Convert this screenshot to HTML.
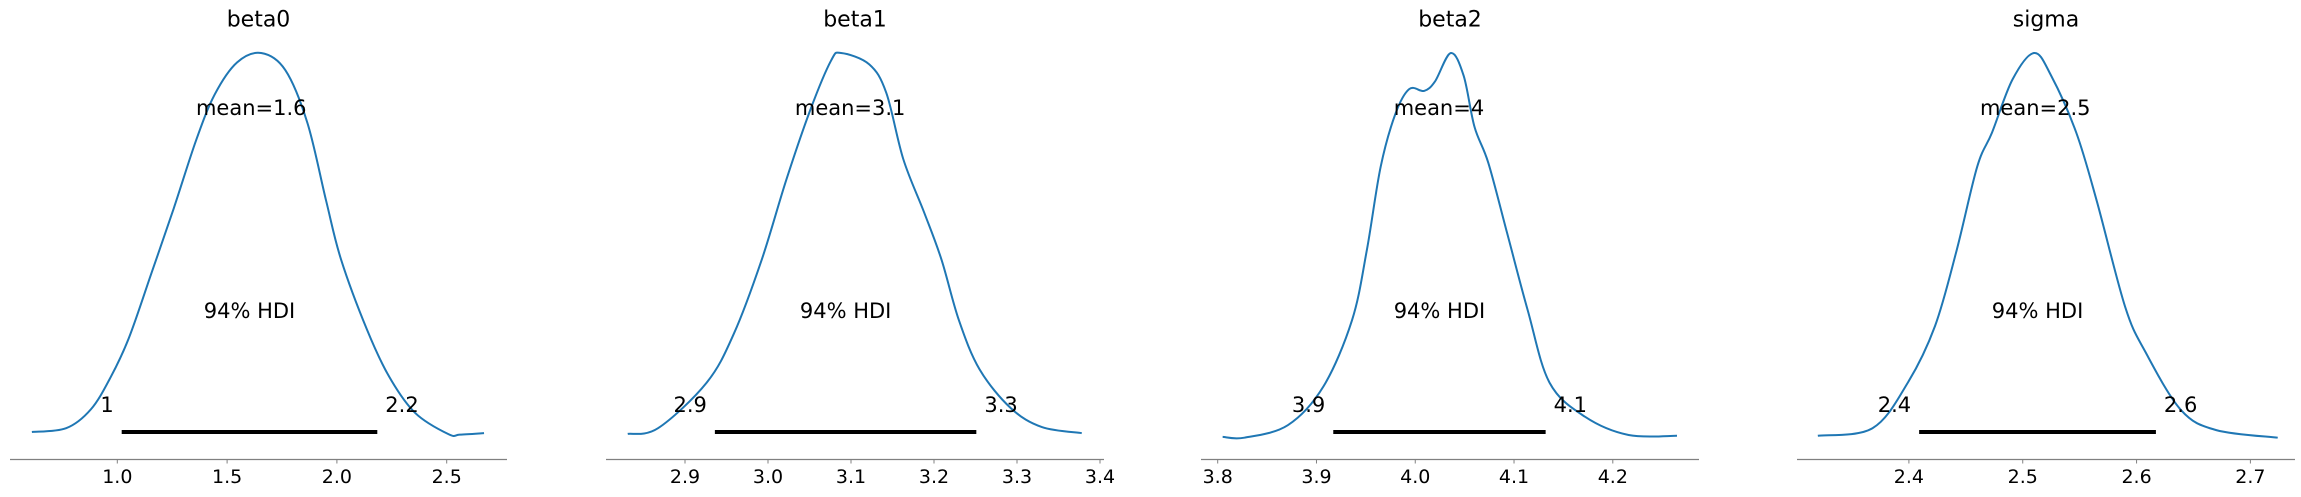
<!DOCTYPE html>
<html><head><meta charset="utf-8"><style>
html,body{margin:0;padding:0;background:#fff;}
svg{display:block;font-family:"DejaVu Sans","Liberation Sans",sans-serif;}
</style></head><body>
<svg id="chart" width="2301" height="497" viewBox="0 0 2301 497"></svg>
<script>
// ---- data ----
const paramNames = ["beta0","beta1","beta2","sigma"];
const beta0X = [0.611,0.767,0.880,0.970,1.054,1.156,1.257,1.359,1.443,1.545,1.655,1.765,1.866,1.951,2.019,2.137,2.239,2.357,2.509,2.560,2.670];
const beta0D = [0,0.01,0.06,0.145,0.25,0.42,0.59,0.77,0.89,0.975,1.0,0.955,0.815,0.61,0.455,0.27,0.145,0.05,-0.006,-0.007,-0.003];
const beta1X = [2.831,2.8675,2.926,2.959,2.9925,3.022,3.051,3.076,3.088,3.122,3.1425,3.163,3.188,3.209,3.23,3.255,3.2925,3.330,3.378];
const beta1D = [-0.005,0.01,0.13,0.26,0.455,0.665,0.85,0.98,1.0,0.97,0.895,0.72,0.58,0.455,0.295,0.165,0.063,0.013,-0.003];
const beta2X = [3.805,3.827,3.871,3.907,3.936,3.951,3.965,3.980,3.994,4.009,4.020,4.036,4.049,4.060,4.074,4.093,4.114,4.136,4.172,4.216,4.265];
const beta2D = [-0.013,-0.015,0.018,0.12,0.295,0.48,0.70,0.84,0.905,0.90,0.925,1.0,0.94,0.805,0.71,0.525,0.32,0.13,0.04,-0.008,-0.01];
const sigmaX = [2.320,2.368,2.399,2.423,2.442,2.460,2.473,2.491,2.510,2.525,2.547,2.565,2.590,2.608,2.639,2.670,2.724];
const sigmaD = [-0.01,0.01,0.13,0.28,0.48,0.70,0.79,0.93,1.0,0.94,0.79,0.61,0.33,0.21,0.058,0.005,-0.015];
const means = [1.61,3.099,4.024,2.511];
const meanLabels = ["1.6","3.1","4","2.5"];
const hdiLow = [1.020,2.936,3.917,2.409];
const hdiHigh = [2.184,3.251,4.132,2.617];
const hdiLowLabels = ["1","2.9","3.9","2.4"];
const hdiHighLabels = ["2.2","3.3","4.1","2.6"];
const ticks0 = [1.0,1.5,2.0,2.5];
const ticks1 = [2.9,3.0,3.1,3.2,3.3,3.4];
const ticks2 = [3.8,3.9,4.0,4.1,4.2];
const ticks3 = [2.4,2.5,2.6,2.7];
const tickLabels0 = ["1.0","1.5","2.0","2.5"];
const tickLabels1 = ["2.9","3.0","3.1","3.2","3.3","3.4"];
const tickLabels2 = ["3.8","3.9","4.0","4.1","4.2"];
const tickLabels3 = ["2.4","2.5","2.6","2.7"];

// ---- layout (pixel calibration, not data) ----
const layout = [
  {ax0:10, ax1:507, v0:1.0, p0:117.3, v1:2.5, p1:446.7},
  {ax0:606, ax1:1104, v0:2.9, p0:685, v1:3.4, p1:1100},
  {ax0:1201, ax1:1699, v0:3.8, p0:1217.7, v1:4.2, p1:1612.8},
  {ax0:1797, ax1:2295, v0:2.4, p0:1908.9, v1:2.7, p1:2250.4}
];
const xsArr=[beta0X,beta1X,beta2X,sigmaX], dsArr=[beta0D,beta1D,beta2D,sigmaD];
const tickArr=[ticks0,ticks1,ticks2,ticks3], tickLabArr=[tickLabels0,tickLabels1,tickLabels2,tickLabels3];
const Y0=432, YPEAK=53, AXY=459.5;
const NS="http://www.w3.org/2000/svg";
const svg=document.getElementById('chart');
function mk(tag,attrs,parent){const e=document.createElementNS(NS,tag);for(const k in attrs)e.setAttribute(k,attrs[k]);(parent||svg).appendChild(e);return e;}
function yScale(d){return Y0-d*(Y0-YPEAK);}
function smoothPath(pts){
  let d="M"+pts[0][0].toFixed(2)+","+pts[0][1].toFixed(2);
  for(let i=0;i<pts.length-1;i++){
    const p0=pts[Math.max(0,i-1)],p1=pts[i],p2=pts[i+1],p3=pts[Math.min(pts.length-1,i+2)];
    const c1=[p1[0]+(p2[0]-p0[0])/6,p1[1]+(p2[1]-p0[1])/6];
    const c2=[p2[0]-(p3[0]-p1[0])/6,p2[1]-(p3[1]-p1[1])/6];
    d+=" C"+c1[0].toFixed(2)+","+c1[1].toFixed(2)+" "+c2[0].toFixed(2)+","+c2[1].toFixed(2)+" "+p2[0].toFixed(2)+","+p2[1].toFixed(2);
  }
  return d;
}
for(let i=0;i<4;i++){
  const L=layout[i];
  const xScale=v=>L.p0+(v-L.v0)*(L.p1-L.p0)/(L.v1-L.v0);
  const g=mk('g',{});
  
  
  const t=mk('text',{x:(L.ax0+L.ax1)/2,y:26.5,'text-anchor':'middle','font-size':'22px',fill:'#000'},g);
  t.textContent=paramNames[i];
  
  
  const ax=mk('line',{x1:L.ax0,x2:L.ax1,y1:AXY,y2:AXY,stroke:'#808080','stroke-width':1.2},g);
  
  
  tickArr[i].forEach((v,j)=>{
    const x=xScale(v);
    const tk=mk('line',{x1:x,x2:x,y1:AXY,y2:AXY+4,stroke:'#808080','stroke-width':1},g);
    
    
    const tl=mk('text',{x:x,y:483,'text-anchor':'middle','font-size':'19px',fill:'#000'},g);
    tl.textContent=tickLabArr[i][j];
    
    
  });
  const pts=xsArr[i].map((v,j)=>[xScale(v),yScale(dsArr[i][j])]);
  const p=mk('path',{d:smoothPath(pts),fill:'none',stroke:'#1f77b4','stroke-width':2},g);
  
  
  const bar=mk('line',{x1:xScale(hdiLow[i]),x2:xScale(hdiHigh[i]),y1:Y0,y2:Y0,stroke:'#000','stroke-width':4},g);
  
  
  const ml=mk('text',{x:xScale(means[i]),y:115,'text-anchor':'middle','font-size':'21px',fill:'#000'},g);
  ml.textContent="mean="+meanLabels[i];
  
  
  const hl=mk('text',{x:xScale((hdiLow[i]+hdiHigh[i])/2),y:318,'text-anchor':'middle','font-size':'21px',fill:'#000'},g);
  hl.textContent="94% HDI";
  
  
  const lo=mk('text',{x:xScale(hdiLow[i])-8,y:412,'text-anchor':'end','font-size':'21px',fill:'#000'},g);
  lo.textContent=hdiLowLabels[i];
  
  
  const hi=mk('text',{x:xScale(hdiHigh[i])+8,y:412,'text-anchor':'start','font-size':'21px',fill:'#000'},g);
  hi.textContent=hdiHighLabels[i];
  
  
}
</script>
</body></html>
